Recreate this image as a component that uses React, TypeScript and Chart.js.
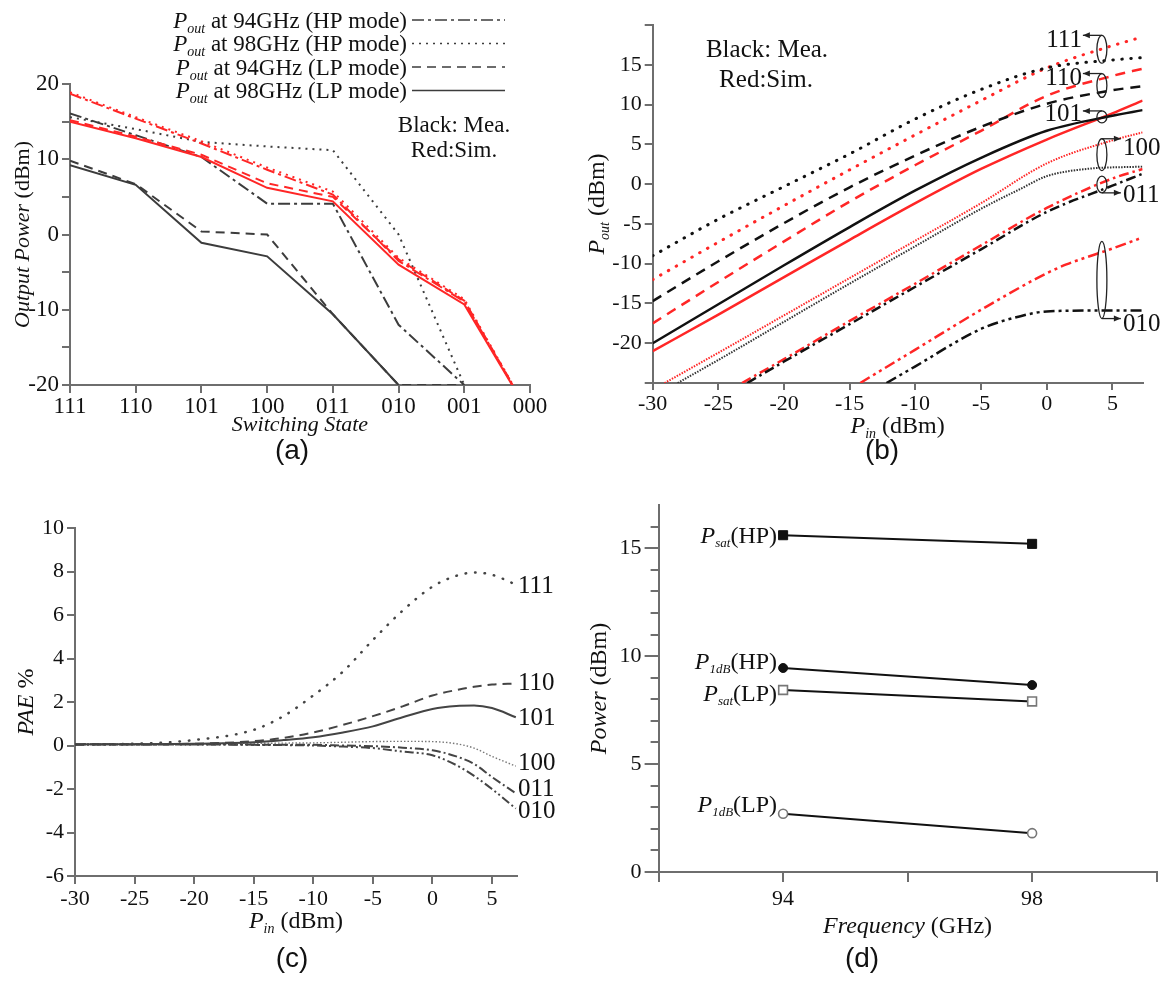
import React, { useEffect, useRef } from 'react';
import { Chart, registerables } from 'chart.js';
Chart.register(...registerables);

const SERIF = '"Liberation Serif","Times New Roman",serif';
const SANS = '"Liberation Sans",Arial,sans-serif';
const RED = '#ff2626';
const INK = '#111111';
const GRAYLINE = '#3c3c3c';
const AXIS = '#6e6e6e';

// ---------------- (a) Output power vs switching state ----------------
const STATES = ['111', '110', '101', '100', '011', '010', '001', '000'];
const A_Y_TICKS = [-20, -15, -10, -5, 0, 5, 10, 15, 20];
const A_HP94_MEA = [16.1, 13.2, 10.3, 4.1, 4.1, -12.0, -20];
const A_HP98_MEA = [15.6, 14.0, 12.3, 11.7, 11.2, 0.0, -20];
const A_LP94_MEA = [9.8, 6.7, 0.4, 0.0, -10.6, -20, -20];
const A_LP98_MEA = [9.2, 6.6, -1.1, -2.9, -10.6, -20];
const A_HP94_SIM = [18.7, 15.4, 12.1, 8.6, 5.3, -3.5, -8.9, -24];
const A_HP98_SIM = [18.9, 15.6, 12.4, 8.9, 5.7, -3.1, -8.6, -24];
const A_LP94_SIM = [15.2, 13.0, 10.6, 6.8, 5.0, -3.3, -8.8, -24];
const A_LP98_SIM = [15.0, 12.8, 10.3, 6.2, 4.4, -4.0, -9.3, -24];

// ---------------- (b) Pout vs Pin ----------------
const B_X_TICKS = [-30, -25, -20, -15, -10, -5, 0, 5];
const B_Y_TICKS = [-25, -20, -15, -10, -5, 0, 5, 10, 15, 20];
const B_PIN = [-30, -25, -20, -15, -10, -5, 0, 5, 7.3];
const B111_MEA = [-9.0, -4.4, -0.3, 3.8, 8.2, 11.9, 14.6, 15.6, 15.9];
const B111_SIM = [-12.0, -7.3, -2.7, 1.8, 6.2, 10.5, 14.6, 17.4, 18.5];
const B110_MEA = [-14.7, -9.7, -4.9, -0.4, 3.6, 7.2, 10.1, 11.8, 12.3];
const B110_SIM = [-17.5, -12.3, -7.2, -2.2, 2.4, 6.7, 11.1, 13.6, 14.5];
const B101_MEA = [-20.0, -15.1, -10.2, -5.4, -0.8, 3.3, 6.7, 8.6, 9.3];
const B101_SIM = [-21.0, -16.4, -11.7, -7.0, -2.4, 1.9, 5.6, 8.9, 10.5];
const B100_MEA_PIN = [-28.1, -25, -20, -15, -10, -5, -2, 0, 3, 7.3];
const B100_MEA = [-25, -22.1, -17.3, -12.5, -7.8, -3.1, -0.6, 1.0, 1.9, 2.2];
const B100_SIM_PIN = [-29.1, -25, -20, -15, -10, -5, 0, 5, 7.3];
const B100_SIM = [-25, -21.2, -16.5, -11.8, -7.1, -2.4, 2.6, 5.5, 6.5];
const B011_MEA_PIN = [-22.8, -20, -15, -10, -5, 0, 5, 7.3];
const B011_MEA = [-25, -22.3, -17.6, -12.9, -8.2, -3.5, -0.2, 1.3];
const B011_SIM_PIN = [-23.2, -20, -15, -10, -5, 0, 5, 7.3];
const B011_SIM = [-25, -22.0, -17.2, -12.5, -7.7, -3.0, 0.7, 1.9];
const B010_MEA_PIN = [-12.2, -10, -5, -2, 0, 3, 7.3];
const B010_MEA = [-25, -22.9, -18.2, -16.6, -16.0, -15.9, -15.9];
const B010_SIM_PIN = [-14.2, -10, -5, 0, 1.5, 5, 7.3];
const B010_SIM = [-25, -20.8, -15.8, -11.2, -10.1, -8.1, -6.7];

// ---------------- (c) PAE vs Pin ----------------
const C_X_TICKS = [-30, -25, -20, -15, -10, -5, 0, 5];
const C_Y_TICKS = [-6, -4, -2, 0, 2, 4, 6, 8, 10];
const C_PIN = [-30, -25, -20, -15, -12.5, -10, -7.5, -5, -2.5, 0, 2, 3.5, 5, 7];
const C111 = [0.05, 0.08, 0.25, 0.72, 1.35, 2.3, 3.4, 4.85, 6.2, 7.3, 7.8, 7.95, 7.85, 7.4];
const C110 = [0.05, 0.06, 0.08, 0.2, 0.35, 0.6, 0.95, 1.35, 1.8, 2.3, 2.55, 2.7, 2.8, 2.85];
const C101 = [0.05, 0.06, 0.08, 0.15, 0.25, 0.38, 0.6, 0.88, 1.3, 1.68, 1.82, 1.84, 1.72, 1.3];
const C100 = [0.05, 0.06, 0.08, 0.1, 0.11, 0.12, 0.15, 0.18, 0.19, 0.18, 0.08, -0.12, -0.5, -0.95];
const C011 = [0.05, 0.05, 0.05, 0.04, 0.03, 0.03, 0.0, -0.03, -0.1, -0.22, -0.5, -0.85, -1.45, -2.2];
const C010 = [0.05, 0.05, 0.05, 0.03, 0.02, 0.0, -0.05, -0.12, -0.28, -0.45, -0.9, -1.4, -2.0, -2.9];

// ---------------- (d) Power vs frequency ----------------
const D_X_TICKS = [92, 94, 96, 98, 100];
const D_X_LABELED = [94, 98];
const D_Y_MAJOR = [0, 5, 10, 15];
const D_Y_MINOR = [1, 2, 3, 4, 6, 7, 8, 9, 11, 12, 13, 14, 16];
const FREQS = [94, 98];
const PSAT_HP = [15.6, 15.2];
const P1DB_HP = [9.45, 8.66];
const PSAT_LP = [8.43, 7.9];
const P1DB_LP = [2.7, 1.8];

// ---------------- helpers ----------------
type Seg = { t: string; i?: boolean; s?: number; dy?: number };
type RichOpt = { size: number; align?: 'left' | 'center' | 'right'; rot?: number; color?: string; middle?: boolean };

function drawRich(ctx: CanvasRenderingContext2D, segs: Seg[], x: number, y: number, o: RichOpt) {
  const font = (s: Seg) => `${s.i ? 'italic ' : ''}${s.s || o.size}px ${SERIF}`;
  ctx.save();
  ctx.translate(x, y);
  if (o.rot) ctx.rotate(o.rot);
  ctx.fillStyle = o.color || INK;
  ctx.textBaseline = 'alphabetic';
  ctx.textAlign = 'left';
  const ws = segs.map((s) => { ctx.font = font(s); return ctx.measureText(s.t).width; });
  const total = ws.reduce((a, b) => a + b, 0);
  let cx = o.align === 'left' ? 0 : o.align === 'right' ? -total : -total / 2;
  const base = o.middle ? o.size * 0.34 : 0;
  segs.forEach((s, k) => { ctx.font = font(s); ctx.fillText(s.t, cx, base + (s.dy || 0)); cx += ws[k]; });
  ctx.restore();
}

const xy = (xs: number[], ys: number[]) => ys.map((v, i) => ({ x: xs[i], y: v }));
const idx = (ys: number[]) => ys.map((v, i) => ({ x: i, y: v }));

function axis(o: { min: number; max: number; ticks: number[]; label: (v: number) => string; size: number; horizontal: boolean; tickLen?: number; font?: number; pad?: number }) {
  return {
    type: 'linear',
    min: o.min,
    max: o.max,
    afterBuildTicks: (s: any) => { s.ticks = o.ticks.map((v) => ({ value: v })); },
    afterFit: (s: any) => { if (o.horizontal) s.height = o.size; else s.width = o.size; },
    grid: { display: true, drawOnChartArea: false, drawTicks: true, tickLength: o.tickLen ?? 8, color: AXIS, lineWidth: 2 },
    border: { display: true, color: AXIS, width: 2 },
    ticks: {
      autoSkip: false, maxRotation: 0, minRotation: 0, padding: o.pad ?? 3, color: INK,
      font: { family: SERIF, size: o.font ?? 22 },
      callback: (v: any) => o.label(Number(v)),
    },
  };
}

function line(data: any[], color: string, dash: number[], width = 2, extra: any = {}) {
  return { data, borderColor: color, backgroundColor: color, borderWidth: width, borderDash: dash, pointRadius: 0, fill: false, tension: 0, ...extra };
}

const DASHDOT = [12, 4, 3, 4];
const DASHDOTDOT = [11, 4, 3, 4, 3, 4];
const DOT = [2, 5];
const DASH = [9, 6];

function baseOpts(padding: any, x: any, y: any) {
  return {
    animation: false,
    responsive: false,
    maintainAspectRatio: false,
    layout: { padding },
    plugins: { legend: { display: false }, tooltip: { enabled: false }, title: { display: false } },
    scales: { x, y },
  };
}

// ---------------- chart (a) ----------------
function makeA(): any {
  return {
    type: 'line',
    data: {
      datasets: [
        line(idx(A_HP94_SIM), RED, DASHDOT, 2),
        line(idx(A_HP98_SIM), RED, DOT, 2),
        line(idx(A_LP94_SIM), RED, DASH, 2),
        line(idx(A_LP98_SIM), RED, [], 2),
        line(idx(A_HP94_MEA), GRAYLINE, DASHDOT, 2),
        line(idx(A_HP98_MEA), GRAYLINE, DOT, 2),
        line(idx(A_LP94_MEA), GRAYLINE, DASH, 2),
        line(idx(A_LP98_MEA), GRAYLINE, [], 2),
      ],
    },
    options: baseOpts(
      { left: 20, right: 30, top: 84, bottom: 45 },
      axis({ min: 0, max: 7, ticks: STATES.map((_, i) => i), label: (v) => STATES[v] ?? '', size: 40, horizontal: true, tickLen: 8, pad: 0, font: 23 }),
      axis({ min: -20, max: 20, ticks: A_Y_TICKS, label: (v) => (v % 10 === 0 ? String(v) : ''), size: 50, horizontal: false, font: 23 }),
    ),
    plugins: [{
      id: 'decorA',
      afterDraw(chart: any) {
        const ctx = chart.ctx as CanvasRenderingContext2D;
        const ca = chart.chartArea;
        const rows = [
          { f: '94GHz (HP mode)', dash: DASHDOT },
          { f: '98GHz (HP mode)', dash: DOT },
          { f: '94GHz (LP mode)', dash: DASH },
          { f: '98GHz (LP mode)', dash: [] as number[] },
        ];
        rows.forEach((r, k) => {
          const cy = 20 + k * 23.5;
          drawRich(ctx, [{ t: 'P', i: true }, { t: 'out', i: true, s: 14, dy: 5 }, { t: ' at ' + r.f }], 407, cy, { size: 23, align: 'right', middle: true });
          ctx.save();
          ctx.strokeStyle = GRAYLINE; ctx.lineWidth = 1.6; ctx.setLineDash(r.dash);
          ctx.beginPath(); ctx.moveTo(412, cy); ctx.lineTo(505, cy); ctx.stroke();
          ctx.restore();
        });
        drawRich(ctx, [{ t: 'Black: Mea.' }], 454, 124, { size: 23, middle: true });
        drawRich(ctx, [{ t: 'Red:Sim.' }], 454, 149, { size: 23, middle: true });
        drawRich(ctx, [{ t: 'Output Power', i: true }, { t: ' (dBm)' }], 22, (ca.top + ca.bottom) / 2, { size: 22, middle: true, rot: -Math.PI / 2 });
        drawRich(ctx, [{ t: 'Switching State', i: true }], (ca.left + ca.right) / 2, 424, { size: 22, middle: true });
      },
    }],
  };
}

// ---------------- chart (b) ----------------
function makeB(): any {
  const m = { cubicInterpolationMode: 'monotone' };
  const BLK = '#111';
  const dotB = { ...m, borderCapStyle: 'round' };
  return {
    type: 'line',
    data: {
      datasets: [
        line(xy(B_PIN, B111_MEA), BLK, [0.5, 8.5], 3, dotB),
        line(xy(B_PIN, B110_MEA), BLK, [10, 7], 2.5, m),
        line(xy(B_PIN, B101_MEA), BLK, [], 2.5, m),
        line(xy(B100_MEA_PIN, B100_MEA), '#333', [1.5, 1.3], 2, m),
        line(xy(B011_MEA_PIN, B011_MEA), BLK, [10, 4, 2.5, 4], 2.5, m),
        line(xy(B010_MEA_PIN, B010_MEA), BLK, DASHDOTDOT, 2.5, m),
        line(xy(B_PIN, B111_SIM), RED, [0.5, 8.5], 3, dotB),
        line(xy(B_PIN, B110_SIM), RED, [10, 7], 2.5, m),
        line(xy(B_PIN, B101_SIM), RED, [], 2.5, m),
        line(xy(B100_SIM_PIN, B100_SIM), RED, [1.5, 1.3], 2, m),
        line(xy(B011_SIM_PIN, B011_SIM), RED, [10, 4, 2.5, 4], 2.5, m),
        line(xy(B010_SIM_PIN, B010_SIM), RED, DASHDOTDOT, 2.5, m),
      ],
    },
    options: baseOpts(
      { left: 32.7, right: 24.4, top: 25, bottom: 47 },
      axis({ min: -30, max: 7.3, ticks: B_X_TICKS, label: (v) => String(v), size: 40, horizontal: true, tickLen: 7, pad: 1 }),
      axis({ min: -25, max: 20, ticks: B_Y_TICKS, label: (v) => (v === -25 || v === 20 ? '' : String(v)), size: 60, horizontal: false }),
    ),
    plugins: [{
      id: 'decorB',
      afterDraw(chart: any) {
        const ctx = chart.ctx as CanvasRenderingContext2D;
        const ca = chart.chartArea;
        const sx = chart.scales.x, sy = chart.scales.y;
        drawRich(ctx, [{ t: 'Black: Mea.' }], 207, 48, { size: 25, middle: true });
        drawRich(ctx, [{ t: 'Red:Sim.' }], 206, 78, { size: 25, middle: true });
        drawRich(ctx, [{ t: 'P', i: true }, { t: 'out', i: true, s: 14, dy: 5 }, { t: ' (dBm)' }], 36, (ca.top + ca.bottom) / 2, { size: 24, middle: true, rot: -Math.PI / 2 });
        drawRich(ctx, [{ t: 'P', i: true }, { t: 'in', i: true, s: 14, dy: 5 }, { t: ' (dBm)' }], (ca.left + ca.right) / 2, 425, { size: 24, middle: true });
        const groups = [
          { name: '111', top: 18.7, bot: 15.2, side: 'L', from: 'top', dy: 3 },
          { name: '110', top: 13.9, bot: 10.9, side: 'L', from: 'top', dy: 3 },
          { name: '101', top: 9.2, bot: 7.7, side: 'L', from: 'top', dy: 2 },
          { name: '100', top: 5.7, bot: 1.7, side: 'R', from: 'top', dy: 8 },
          { name: '011', top: 1.0, bot: -1.1, side: 'R', from: 'bot', dy: 1 },
          { name: '010', top: -7.2, bot: -16.9, side: 'R', from: 'bot', dy: 4 },
        ];
        const ex = sx.getPixelForValue(4.2);
        groups.forEach((g) => {
          const yt = sy.getPixelForValue(g.top), yb = sy.getPixelForValue(g.bot);
          ctx.save();
          ctx.strokeStyle = '#222'; ctx.fillStyle = '#222'; ctx.lineWidth = 1.3;
          ctx.beginPath(); ctx.ellipse(ex, (yt + yb) / 2, 5, (yb - yt) / 2, 0, 0, Math.PI * 2); ctx.stroke();
          const ay = g.from === 'bot' ? yb : yt;
          const dir = g.side === 'L' ? -1 : 1;
          const ax2 = ex + dir * 19;
          ctx.beginPath(); ctx.moveTo(ex, ay); ctx.lineTo(ax2, ay); ctx.stroke();
          ctx.beginPath(); ctx.moveTo(ax2, ay); ctx.lineTo(ax2 - dir * 7, ay - 3); ctx.lineTo(ax2 - dir * 7, ay + 3); ctx.closePath(); ctx.fill();
          ctx.restore();
          drawRich(ctx, [{ t: g.name }], g.side === 'L' ? ax2 - 1 : ax2 + 2, ay + g.dy, { size: 25, align: g.side === 'L' ? 'right' : 'left', middle: true });
        });
      },
    }],
  };
}

// ---------------- chart (c) ----------------
function makeC(): any {
  const m = { cubicInterpolationMode: 'monotone' };
  const G = '#444';
  return {
    type: 'line',
    data: {
      datasets: [
        line(xy(C_PIN, C111), G, [0.5, 9], 2.5, { ...m, borderCapStyle: 'round' }),
        line(xy(C_PIN, C110), G, [9, 6], 2, m),
        line(xy(C_PIN, C101), G, [], 2, m),
        line(xy(C_PIN, C100), '#777', [1.5, 2], 1.4, m),
        line(xy(C_PIN, C011), G, [9, 3, 2, 3], 2, m),
        line(xy(C_PIN, C010), G, [9, 3, 2, 3, 2, 3], 2, m),
      ],
    },
    options: baseOpts(
      { left: 25, right: 43, top: 58, bottom: 75 },
      axis({ min: -30, max: 7.1, ticks: C_X_TICKS, label: (v) => String(v), size: 40, horizontal: true, pad: 2 }),
      axis({ min: -6, max: 10, ticks: C_Y_TICKS, label: (v) => String(v), size: 50, horizontal: false }),
    ),
    plugins: [{
      id: 'decorC',
      afterDraw(chart: any) {
        const ctx = chart.ctx as CanvasRenderingContext2D;
        const ca = chart.chartArea;
        const sy = chart.scales.y;
        const labels = [
          { n: '111', v: 7.4 }, { n: '110', v: 2.95 }, { n: '101', v: 1.35 },
          { n: '100', v: -0.75 }, { n: '011', v: -1.93 }, { n: '010', v: -2.95 },
        ];
        labels.forEach((l) => drawRich(ctx, [{ t: l.n }], ca.right + 1, sy.getPixelForValue(l.v), { size: 25, align: 'left', middle: true }));
        drawRich(ctx, [{ t: 'PAE', i: true }, { t: ' %' }], 25, (ca.top + ca.bottom) / 2, { size: 24, middle: true, rot: -Math.PI / 2 });
        drawRich(ctx, [{ t: 'P', i: true }, { t: 'in', i: true, s: 14, dy: 5 }, { t: ' (dBm)' }], (ca.left + ca.right) / 2, 450, { size: 24, middle: true });
      },
    }],
  };
}

// ---------------- chart (d) ----------------
function makeD(): any {
  const L = '#111';
  const filled = { pointBackgroundColor: '#111', pointBorderColor: '#111', pointBorderWidth: 1 };
  const hollow = { pointBackgroundColor: '#fff', pointBorderColor: '#777', pointBorderWidth: 1.6 };
  return {
    type: 'line',
    data: {
      datasets: [
        line(xy(FREQS, PSAT_HP), L, [], 2, { ...filled, pointStyle: 'rect', pointRadius: 6.4 }),
        line(xy(FREQS, P1DB_HP), L, [], 2, { ...filled, pointStyle: 'circle', pointRadius: 4.5 }),
        line(xy(FREQS, PSAT_LP), L, [], 2, { ...hollow, pointStyle: 'rect', pointRadius: 6.2 }),
        line(xy(FREQS, P1DB_LP), L, [], 2, { ...hollow, pointStyle: 'circle', pointRadius: 4.5 }),
      ],
    },
    options: baseOpts(
      { left: 38.6, right: 10.4, top: 35, bottom: 79 },
      axis({ min: 92, max: 100, ticks: D_X_TICKS, label: (v) => (D_X_LABELED.includes(v) ? String(v) : ''), size: 40, horizontal: true, tickLen: 10, pad: 4 }),
      axis({ min: 0, max: 17, ticks: D_Y_MAJOR, label: (v) => String(v), size: 60, horizontal: false, tickLen: 14 }),
    ),
    plugins: [{
      id: 'decorD',
      afterDraw(chart: any) {
        const ctx = chart.ctx as CanvasRenderingContext2D;
        const ca = chart.chartArea;
        const sx = chart.scales.x, sy = chart.scales.y;
        ctx.save();
        ctx.strokeStyle = AXIS; ctx.lineWidth = 2;
        D_Y_MINOR.forEach((v) => {
          const py = Math.round(sy.getPixelForValue(v));
          ctx.beginPath(); ctx.moveTo(ca.left - 8, py); ctx.lineTo(ca.left, py); ctx.stroke();
        });
        ctx.restore();
        const lx = sx.getPixelForValue(FREQS[0]) - 6;
        const items = [
          { sub: 'sat', tag: '(HP)', v: PSAT_HP[0], dy: 0 },
          { sub: '1dB', tag: '(HP)', v: P1DB_HP[0], dy: -7 },
          { sub: 'sat', tag: '(LP)', v: PSAT_LP[0], dy: 3 },
          { sub: '1dB', tag: '(LP)', v: P1DB_LP[0], dy: -10 },
        ];
        items.forEach((it) => drawRich(ctx, [{ t: 'P', i: true }, { t: it.sub, i: true, s: 13, dy: 4 }, { t: it.tag }], lx, sy.getPixelForValue(it.v) + it.dy, { size: 24, align: 'right', middle: true }));
        drawRich(ctx, [{ t: 'Power', i: true }, { t: ' (dBm)' }], 38, (ca.top + ca.bottom) / 2, { size: 24, middle: true, rot: -Math.PI / 2 });
        drawRich(ctx, [{ t: 'Frequency', i: true }, { t: ' (GHz)' }], (ca.left + ca.right) / 2, 455, { size: 24, middle: true });
      },
    }],
  };
}

function ChartCanvas(p: { make: () => any; left: number; top: number; width: number; height: number }) {
  const ref = useRef<HTMLCanvasElement>(null);
  useEffect(() => {
    const chart = new Chart(ref.current as HTMLCanvasElement, p.make());
    return () => chart.destroy();
  }, []);
  return <canvas ref={ref} width={p.width} height={p.height} style={{ position: 'absolute', left: p.left, top: p.top, width: p.width, height: p.height }} />;
}

function Caption(p: { text: string; x: number; y: number }) {
  return (
    <div style={{ position: 'absolute', left: p.x - 40, top: p.y - 18, width: 80, height: 36, lineHeight: '36px', textAlign: 'center', fontFamily: SANS, fontSize: 28, color: '#111' }}>{p.text}</div>
  );
}

export default function App() {
  return (
    <div style={{ position: 'absolute', left: 0, top: 0, width: 1167, height: 991, background: '#fff', overflow: 'hidden' }}>
      <ChartCanvas make={makeA} left={0} top={0} width={560} height={470} />
      <ChartCanvas make={makeB} left={560} top={0} width={607} height={470} />
      <ChartCanvas make={makeC} left={0} top={470} width={560} height={521} />
      <ChartCanvas make={makeD} left={560} top={470} width={607} height={521} />
      <Caption text="(a)" x={292} y={450} />
      <Caption text="(b)" x={882} y={450} />
      <Caption text="(c)" x={292} y={958} />
      <Caption text="(d)" x={862} y={958} />
    </div>
  );
}
